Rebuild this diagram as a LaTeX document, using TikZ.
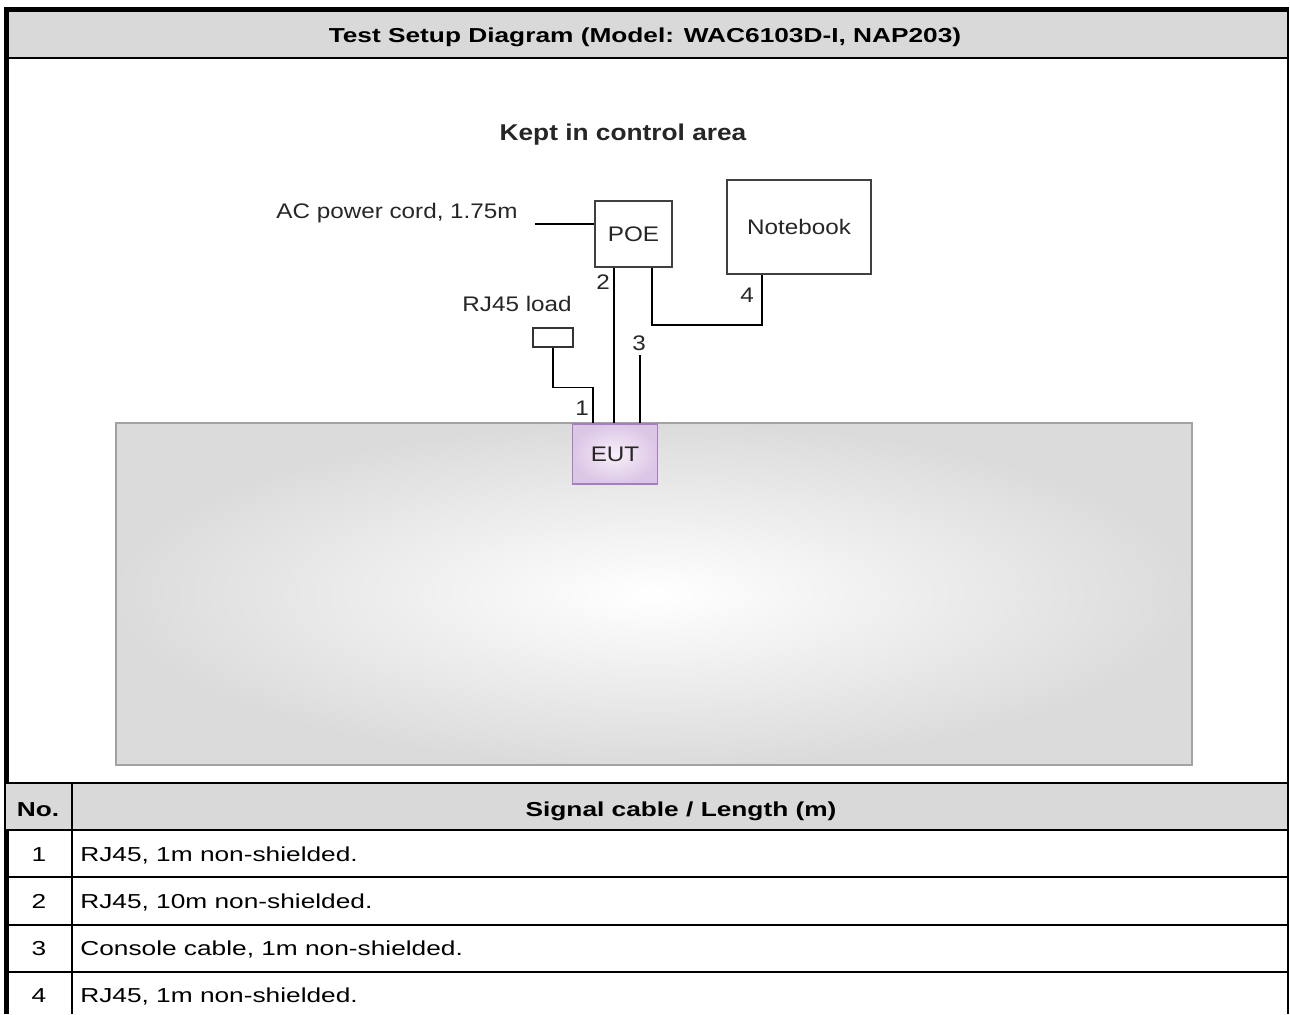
\documentclass[tikz,border=0pt]{standalone}
\usepackage{fontspec}
\setmainfont{Liberation Sans}
\newfontfamily\tabfont[FakeStretch=1.30]{Liberation Sans}
\newfontfamily\diafont[FakeStretch=1.15]{Liberation Sans}
\usetikzlibrary{positioning,calc}
\definecolor{bandgrey}{HTML}{D9D9D9}
\definecolor{benchedge}{HTML}{A2A2A2}
\definecolor{eutedge}{HTML}{A67CC2}
\definecolor{eutin}{HTML}{F7F0F9}
\definecolor{eutout}{HTML}{DCC6E6}
\definecolor{inkgrey}{HTML}{262626}

\begin{document}
\begin{tikzpicture}[x=0.02cm, y=-0.02cm,
  lbl/.style={font=\diafont\fontsize{12}{14}\selectfont, text=inkgrey, inner sep=0pt},
  dev/.style={lbl, draw=black!75, line width=1pt, fill=white, inner sep=0pt},
  cbl/.style={line width=0.8pt},
  cell/.style={font=\tabfont\fontsize{11.5}{14}\selectfont, inner sep=0pt},
  rule/.style={line width=0.8pt}]
  \useasboundingbox (0,0) rectangle (1290,1014);

  % frame and title band
  \fill[bandgrey] (6,10) rectangle (1288,57);
  \draw[line width=2.8pt] (4,9.5) -- (1289,9.5);
  \draw[line width=1.2pt] (6,58) -- (1288,58);
  \draw[line width=2.4pt] (6.5,8) -- (6.5,1014);
  \draw[line width=1.1pt] (1288,9) -- (1288,1014);
  \node[cell, font=\tabfont\bfseries\fontsize{11.5}{14}\selectfont, anchor=base] (title) at (645,42)
    {Test Setup Diagram (Model: WAC6103D-I, NAP203)};

  % bench area
  \draw[benchedge, line width=1.5pt, inner color=white, outer color=black!14]
    (116,423) rectangle (1192,765);
  \node[lbl, font=\diafont\bfseries\fontsize{13}{15}\selectfont, anchor=base] (area) at (623,140)
    {Kept in control area};

  % devices
  \node[dev, minimum width=1.54cm, minimum height=1.32cm] (poe) at (633.5,234) {POE};
  \node[dev, minimum width=2.88cm, minimum height=1.88cm] (nb) at (799,227) {Notebook};
  \node[draw=black!80, line width=0.9pt, fill=white, minimum width=0.8cm, minimum height=0.38cm, inner sep=0pt] (load) at (553,337.5) {};
  \node[lbl, anchor=east] (loadlbl) at (572,304) {RJ45 load};
  \node[lbl, anchor=base east] (aclbl) at (518,218) {AC power cord, 1.75m};
  \node[lbl, draw=eutedge, line width=1.1pt, inner color=eutin, outer color=eutout,
        minimum width=1.7cm, minimum height=1.2cm] (eut) at (615,454) {EUT};

  % cables
  \coordinate (acend) at (535,224);
  \draw[cbl] (acend) -- (acend -| poe.west);
  \coordinate (e1) at ($(eut.north)+(-22,0)$);
  \coordinate (e2) at ($(eut.north)+(-1,0)$);
  \coordinate (e3) at ($(eut.north)+(25,0)$);
  \coordinate (p4) at ($(poe.south)+(18.5,0)$);
  \coordinate (n4) at ($(nb.south)+(-37,0)$);
  \draw[cbl] (load.south) -- ++(0,40) -| (e1);
  \draw[cbl] (e2) -- (e2 |- poe.south);
  \draw[cbl] (e3) -- ++(0,-68);
  \draw[cbl] (p4) -- ++(0,57) -| (n4);
  \node[lbl] (c1) at (582,408) {1};
  \node[lbl] (c2) at (603,282) {2};
  \node[lbl] (c3) at (639,343) {3};
  \node[lbl] (c4) at (747,295) {4};

  % cable table
  \fill[bandgrey] (6,784) rectangle (1287,829);
  \draw[line width=1.3pt] (4,783) -- (1289,783);
  \foreach \y in {830,877,925,972}
    \draw[rule] (6,\y) -- (1288,\y);
  \draw[line width=1pt] (72,783) -- (72,1014);
  \node[cell, font=\tabfont\bfseries\fontsize{11.5}{14}\selectfont, anchor=base] (hno) at (38,816) {No.};
  \node[cell, font=\tabfont\bfseries\fontsize{11.5}{14}\selectfont, anchor=base] (hcab) at (681,816) {Signal cable / Length (m)};
  \foreach \t [count=\k] in {{RJ45, 1m non-shielded.},{RJ45, 10m non-shielded.},
      {Console cable, 1m non-shielded.},{RJ45, 1m non-shielded.}} {
    \node[cell, anchor=base] (no\k) at (39,{814+47.2*\k}) {\k};
    \node[cell, anchor=base west] (cab\k) at (80,{814+47.2*\k}) {\t};
  }
\end{tikzpicture}
\end{document}
